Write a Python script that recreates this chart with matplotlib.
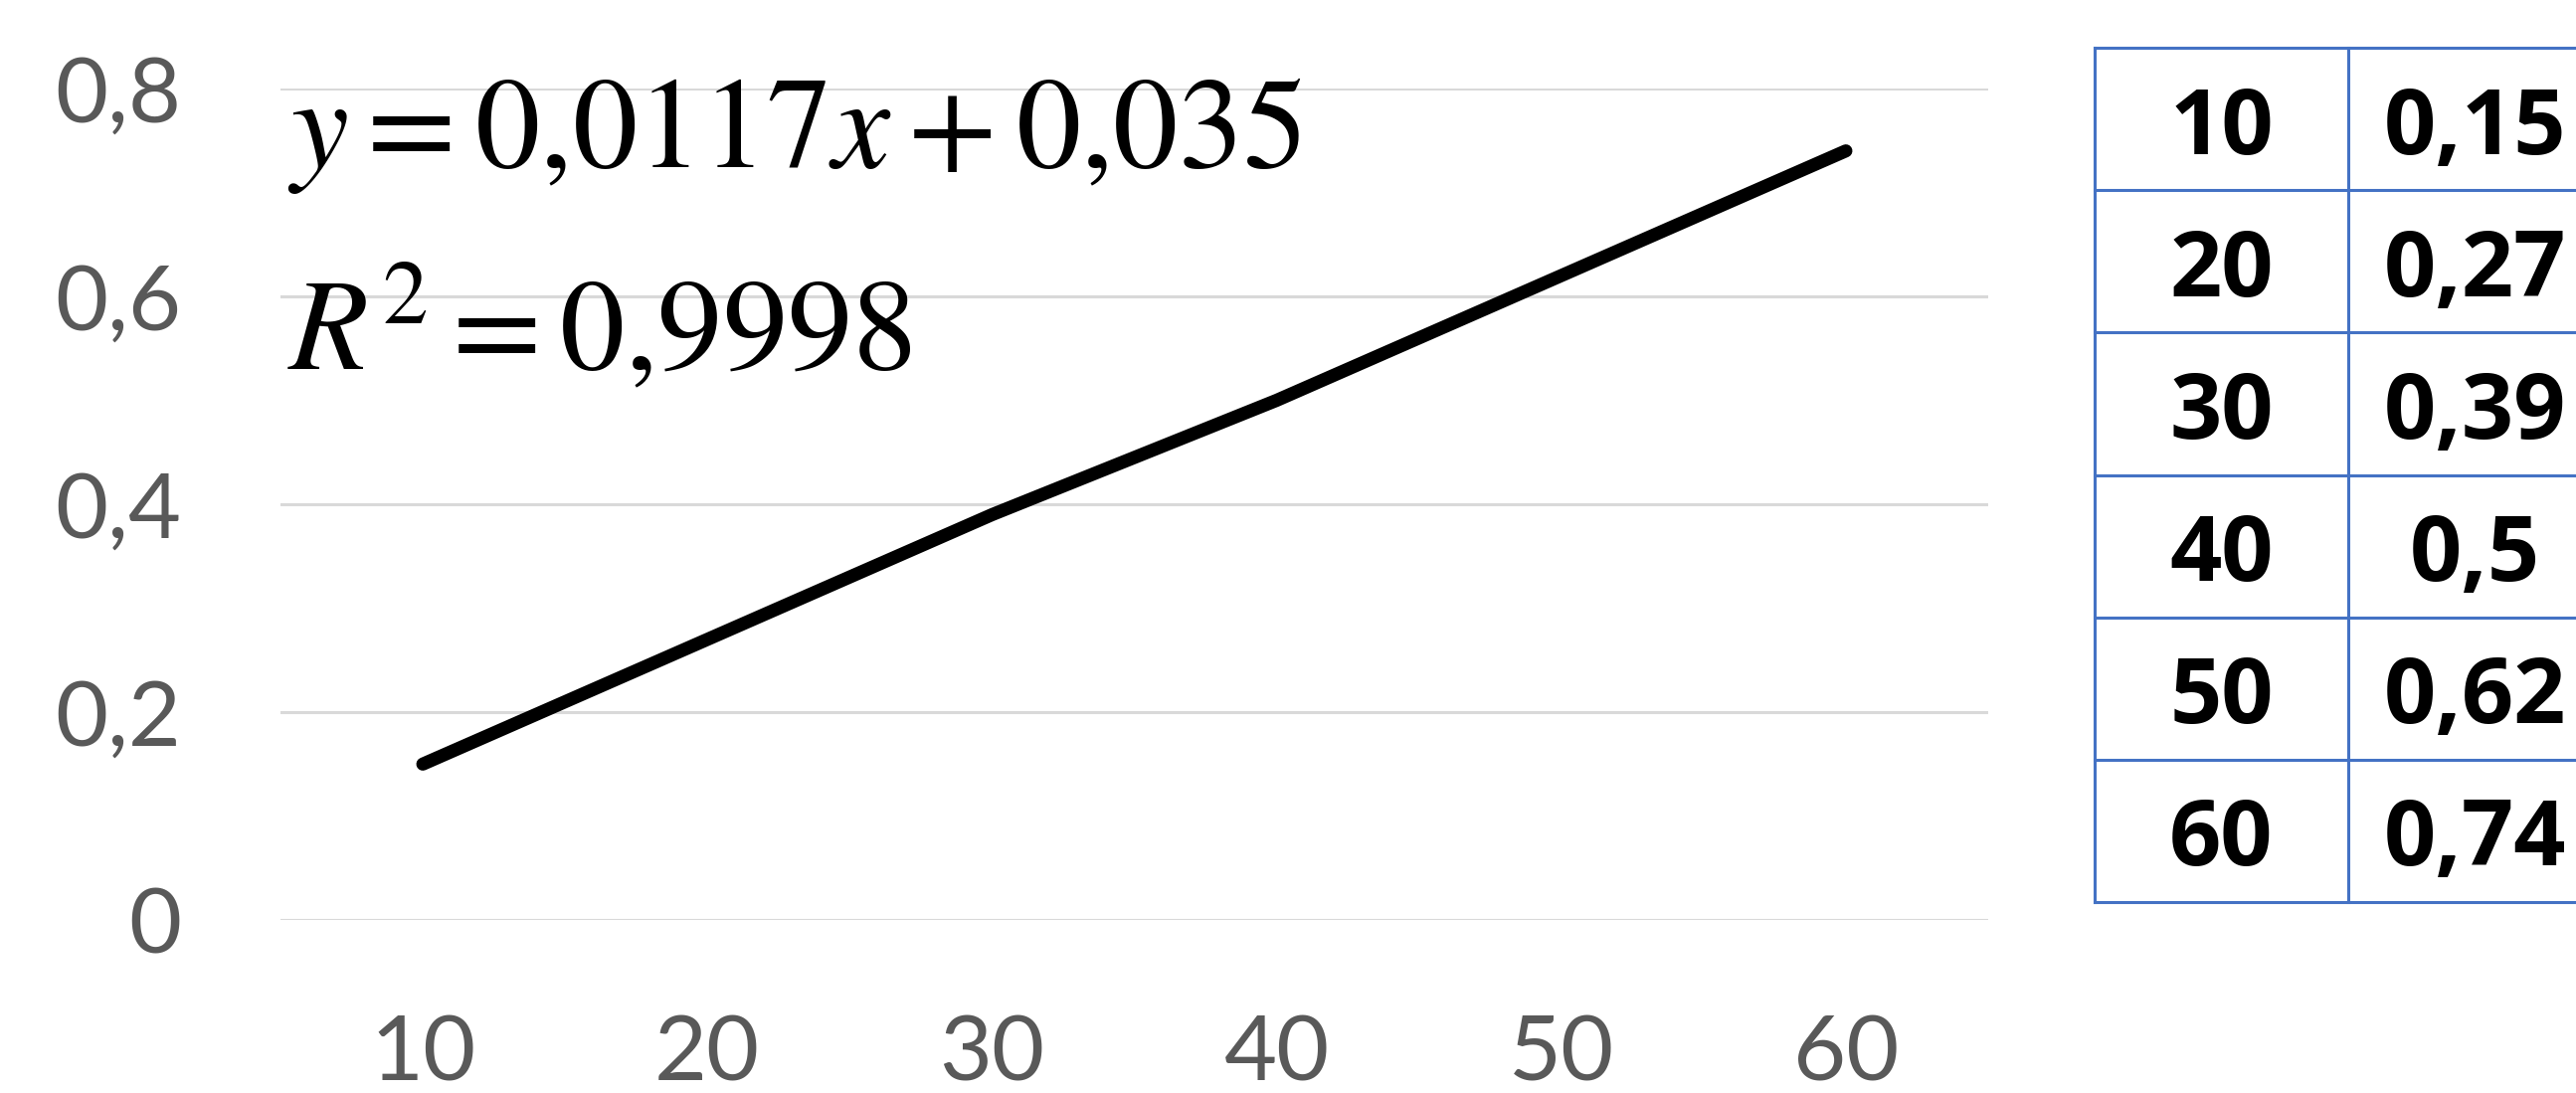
import matplotlib
matplotlib.use("Agg")
import matplotlib.pyplot as plt
from matplotlib.ticker import FuncFormatter

# ── Data ────────────────────────────────────────────────────────────────
categories = [10, 20, 30, 40, 50, 60]
values     = [0.15, 0.27, 0.39, 0.5, 0.62, 0.74]
y_ticks    = [0, 0.2, 0.4, 0.6, 0.8]
eq_text    = r"$y = 0{,}0117x + 0{,}035$"
r2_text    = r"$R^2 = 0{,}9998$"

TICK_COLOR = "#595959"
GRID_COLOR = "#D9D9D9"
TABLE_BLUE = "#4472C4"


def comma(v):
    s = f"{v:g}"
    return s.replace(".", ",")


plt.rcParams["mathtext.fontset"] = "stix"

fig = plt.figure(figsize=(25.9, 10.99), dpi=100, facecolor="white")

# ── Line chart ──────────────────────────────────────────────────────────
ax = fig.add_axes([0.1089, 0.1583, 0.6629, 0.7607])
xpos = list(range(len(categories)))
ax.plot(xpos, values, color="black", linewidth=9.5, solid_capstyle="round",
        solid_joinstyle="round", clip_on=False, zorder=3)

ax.set_xlim(-0.5, len(categories) - 0.5)
ax.set_ylim(0, 0.8)
ax.set_yticks(y_ticks)
ax.yaxis.set_major_formatter(FuncFormatter(lambda v, _: comma(round(v, 2))))
ax.set_xticks(xpos)
ax.set_xticklabels([str(c) for c in categories])
ax.grid(axis="y", color=GRID_COLOR, linewidth=2.2)
ax.set_axisbelow(True)
for s in ax.spines.values():
    s.set_visible(False)
ax.tick_params(axis="both", length=0, colors=TICK_COLOR, labelsize=66)
ax.tick_params(axis="y", pad=72)
ax.tick_params(axis="x", pad=68)
for lab in ax.get_xticklabels() + ax.get_yticklabels():
    lab.set_fontfamily("Lato")

# trend line equation, as Excel puts it on the chart
fig.text(0.1116, 0.847, eq_text, fontsize=94, va="baseline", ha="left")
fig.text(0.1116, 0.6615, r2_text, fontsize=94, va="baseline", ha="left")

# ── Data table on the right ─────────────────────────────────────────────
tax = fig.add_axes([0.8131, 0.1747, 0.1969, 0.7816])
tax.set_xlim(0, 2)
tax.set_ylim(len(categories), 0)
tax.axis("off")
for i in range(len(categories) + 1):
    tax.plot([0, 2], [i, i], color=TABLE_BLUE, linewidth=2.2, clip_on=False)
for j in range(3):
    tax.plot([j, j], [0, len(categories)], color=TABLE_BLUE, linewidth=2.2,
             clip_on=False)
for i, (c, v) in enumerate(zip(categories, values)):
    tax.text(0.5, i + 0.5, str(c), ha="center", va="center_baseline",
             fontsize=66, fontweight="bold", family="Open Sans")
    tax.text(1.5, i + 0.5, comma(v), ha="center", va="center_baseline",
             fontsize=66, fontweight="bold", family="Open Sans")

fig.savefig("out.png", dpi=100, facecolor="white")
